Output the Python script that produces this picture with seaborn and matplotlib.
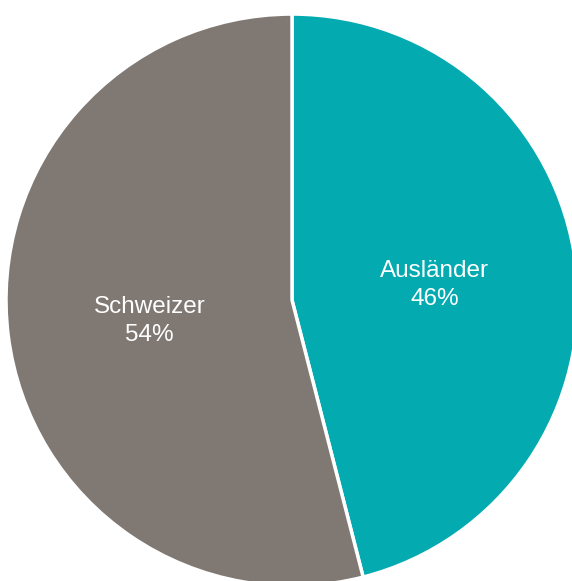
import matplotlib
matplotlib.use("Agg")
import matplotlib.pyplot as plt
import seaborn as sns

labels = ["Ausländer", "Schweizer"]
values = [46, 54]
colors = ["#03aab0", "#7f7873"]

sns.set_style("white")
plt.rcParams['font.family'] = ['Liberation Sans', 'DejaVu Sans']

fig = plt.figure(figsize=(5.72, 5.81), dpi=100)
ax = fig.add_axes([0.0105, -0.0087, 1.0, 0.9845])

def fmt(pct, names=iter(labels)):
    return f"{next(names)}\n{pct:.0f}%"

wedges, texts, autotexts = ax.pie(
    values, colors=colors, startangle=90, counterclock=False,
    autopct=fmt, pctdistance=0.503,
    wedgeprops=dict(edgecolor="white", linewidth=2.5),
    textprops=dict(color="white", fontsize=17.5, linespacing=1.33),
)
# nudge labels down a little, matplotlib centres them on the full line box
for t in autotexts:
    x, y = t.get_position()
    t.set_position((x, y - 0.011))

ax.set_xlim(-1, 1)
ax.set_ylim(-1, 1)
ax.set_aspect("auto")
ax.axis("off")

fig.savefig("out.png", dpi=100)
